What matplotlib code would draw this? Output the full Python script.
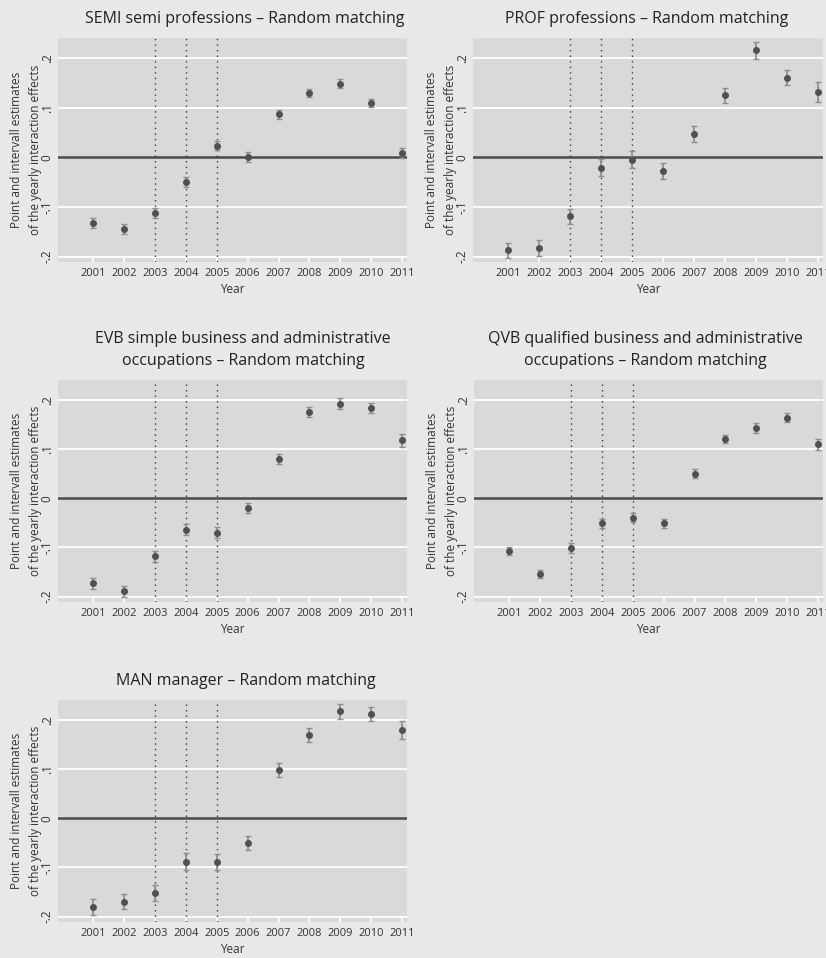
import matplotlib
matplotlib.use("Agg")
import matplotlib.pyplot as plt
import numpy as np

plt.rcParams['font.family'] = ['Open Sans', 'DejaVu Sans']

years = [2001, 2002, 2003, 2004, 2005, 2006, 2007, 2008, 2009, 2010, 2011]
event_years = [2003, 2004, 2005]

semi_est = [-0.132, -0.144, -0.112, -0.049, 0.024, 0.000, 0.087, 0.130, 0.149, 0.110, 0.009]
semi_ci = [0.010, 0.010, 0.010, 0.010, 0.010, 0.010, 0.009, 0.009, 0.009, 0.008, 0.010]

prof_est = [-0.187, -0.183, -0.119, -0.021, -0.005, -0.028, 0.047, 0.125, 0.216, 0.161, 0.132]
prof_ci = [0.015, 0.016, 0.015, 0.017, 0.017, 0.016, 0.016, 0.015, 0.017, 0.015, 0.020]

evb_est = [-0.173, -0.189, -0.118, -0.064, -0.070, -0.020, 0.080, 0.176, 0.193, 0.184, 0.118]
evb_ci = [0.011, 0.011, 0.011, 0.011, 0.011, 0.010, 0.010, 0.010, 0.011, 0.010, 0.014]

qvb_est = [-0.107, -0.154, -0.101, -0.051, -0.039, -0.051, 0.050, 0.121, 0.143, 0.164, 0.110]
qvb_ci = [0.009, 0.009, 0.010, 0.009, 0.010, 0.009, 0.009, 0.009, 0.010, 0.009, 0.011]

man_est = [-0.181, -0.170, -0.152, -0.088, -0.089, -0.050, 0.099, 0.170, 0.218, 0.213, 0.180]
man_ci = [0.016, 0.015, 0.017, 0.017, 0.017, 0.015, 0.014, 0.014, 0.015, 0.014, 0.018]

titles = [
    "SEMI semi professions \u2013 Random matching",
    "PROF professions \u2013 Random matching",
    "EVB simple business and administrative\noccupations \u2013 Random matching",
    "QVB qualified business and administrative\noccupations \u2013 Random matching",
    "MAN manager \u2013 Random matching",
]
estimates = [semi_est, prof_est, evb_est, qvb_est, man_est]
cis = [semi_ci, prof_ci, evb_ci, qvb_ci, man_ci]

yticks = [-0.2, -0.1, 0.0, 0.1, 0.2]
ytick_labels = ["-.2", "-.1", "0", ".1", ".2"]

W, H = 826, 958
fig = plt.figure(figsize=(W / 100, H / 100), dpi=100)
BG = "#e8e8ea"
PBG = "#d9d9db"
fig.patch.set_facecolor(BG)

# left, right, top, bottom, title center x (pixels)
boxes = [
    (58, 407, 38, 262, 245),
    (473, 823, 38, 262, 647),
    (58, 407, 380, 602, 243),
    (474, 823, 380, 602, 645),
    (58, 407, 700, 922, 246),
]

for (l, r, t, b, tc), title, est, ci in zip(boxes, titles, estimates, cis):
    ax = fig.add_axes([l / W, 1 - b / H, (r - l) / W, (b - t) / H])
    ax.set_facecolor(PBG)
    for s in ax.spines.values():
        s.set_visible(False)
    ax.set_xlim(1999.86, 2011.16)
    ax.set_ylim(-0.211, 0.241)
    ax.set_yticks(yticks)
    ax.set_yticklabels(ytick_labels, rotation=90, va="center")
    ax.set_xticks(years)
    ax.set_xticklabels([str(y) for y in years])
    ax.tick_params(axis="both", colors="white", labelcolor="#333333", labelsize=8,
                   direction="in", length=4, width=1.2, pad=4)
    ax.tick_params(axis="y", length=0, pad=3, labelsize=8.5)
    for yv in yticks:
        if yv != 0:
            ax.axhline(yv, color="white", lw=1.3, zorder=1)
    ax.axhline(0, color="#4a4a4a", lw=1.8, zorder=2)
    for ev in event_years:
        ax.axvline(ev, color="#3a3a3a", lw=1.0, ls=(0, (1, 3)), zorder=2)
    ax.errorbar(years, est, yerr=ci, fmt="o", color="#505050", ms=4.0,
                ecolor="#8e8e8e", elinewidth=1.3, capsize=2, capthick=1, zorder=3)
    ax.set_xlabel("Year", fontsize=8.5, color="#333333", labelpad=3)
    ax.set_ylabel("Point and intervall estimates\nof the yearly interaction effects",
                  fontsize=8.5, color="#333333", labelpad=-1, linespacing=1.6)
    ax.set_title(title, fontsize=11.5, color="#222222", pad=11, linespacing=1.5,
                 x=(tc - l) / (r - l))

fig.savefig("out.png", dpi=100, facecolor=BG)
